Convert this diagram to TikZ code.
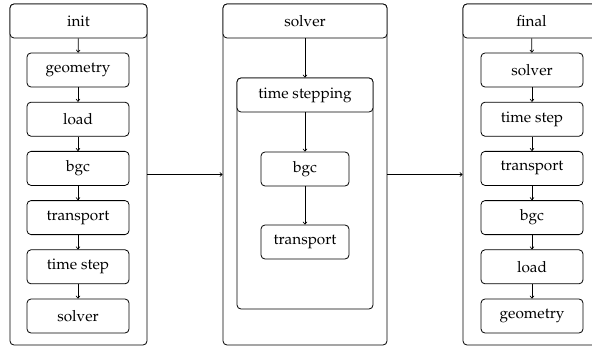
\documentclass[tikz,border=0pt]{standalone}
\usepackage[T1]{fontenc}
\usepackage{mathpazo}
\usetikzlibrary{arrows.meta}
\begin{document}
\begin{tikzpicture}[x=0.75pt,y=-0.75pt,
  line width=0.6pt,
  txt/.style={font=\fontsize{11.5}{13}\selectfont},
  box/.style={txt, draw, rounded corners=3pt, inner sep=0pt,
    minimum width=76.5pt, minimum height=25.5pt},
  head/.style={txt, draw, fill=white, rounded corners=3pt, inner sep=0pt,
    minimum width=102.75pt, minimum height=25.5pt},
  frame/.style={draw, rounded corners=3pt, inner sep=0pt,
    minimum width=102.75pt, minimum height=255.75pt},
  flow/.style={-{To[length=2.2pt,width=3.2pt]}, line width=0.5pt}]
\useasboundingbox (0,0) rectangle (592,349);
\clip (0,0) rectangle (592,349);

% ---- init stage ----
\node[frame] (initbox) at (78.5,174.5) {};
\node[head, anchor=north] (inith) at (initbox.north) {init};
\node[box] (i1) at (78,70) {geometry};
\node[box] (i2) at (78,119.2) {load};
\node[box] (i3) at (78,168.4) {bgc};
\node[box] (i4) at (78,217.6) {transport};
\node[box] (i5) at (78,266.8) {time step};
\node[box] (i6) at (78,316) {solver};
\draw[flow] (inith) -- (i1);
\draw[flow] (i1) -- (i2);
\draw[flow] (i2) -- (i3);
\draw[flow] (i3) -- (i4);
\draw[flow] (i4) -- (i5);
\draw[flow] (i5) -- (i6);

% ---- solver stage ----
\node[frame, minimum width=123pt] (solvbox) at (305,174.5) {};
\node[head, minimum width=123pt, anchor=north] (solvh) at (solvbox.north) {solver};
\node[draw, rounded corners=3pt, inner sep=0pt, minimum width=102pt,
  minimum height=173.25pt] (tsbox) at (305,193.5) {};
\node[head, minimum width=102pt, anchor=north] (tsh) at (tsbox.north) {time stepping};
\node[box, minimum width=66pt] (s1) at (305,169) {bgc};
\node[box, minimum width=66pt] (s2) at (305,242) {transport};
\draw[flow] (solvh) -- (tsh);
\draw[flow] (tsh) -- (s1);
\draw[flow] (s1) -- (s2);

% ---- final stage ----
\node[frame] (finbox) at (531.5,174.5) {};
\node[head, anchor=north] (finh) at (finbox.north) {final};
\node[box] (f1) at (532,70) {solver};
\node[box] (f2) at (532,119.2) {time step};
\node[box] (f3) at (532,168.4) {transport};
\node[box] (f4) at (532,217.6) {bgc};
\node[box] (f5) at (532,266.8) {load};
\node[box] (f6) at (532,316) {geometry};
\draw[flow] (finh) -- (f1);
\draw[flow] (f1) -- (f2);
\draw[flow] (f2) -- (f3);
\draw[flow] (f3) -- (f4);
\draw[flow] (f4) -- (f5);
\draw[flow] (f5) -- (f6);

% ---- links between stages ----
\draw[flow] (initbox) -- (solvbox);
\draw[flow] (solvbox) -- (finbox);
\end{tikzpicture}
\end{document}
